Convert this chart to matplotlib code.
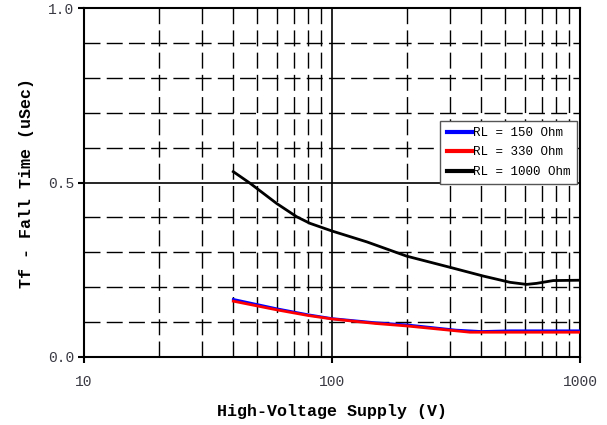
import matplotlib.pyplot as plt
from matplotlib.ticker import FixedLocator, NullFormatter
import numpy as np

# values
v_150 = [40, 60, 80, 100, 150, 200, 316, 400, 520, 700, 1000]
tf_150 = [0.165, 0.138, 0.121, 0.110, 0.098, 0.092, 0.077, 0.073, 0.075, 0.075, 0.075]

v_330 = [40, 60, 80, 100, 150, 200, 316, 360, 500, 700, 1000]
tf_330 = [0.160, 0.135, 0.119, 0.109, 0.096, 0.089, 0.075, 0.071, 0.071, 0.071, 0.071]

v_1000 = [40, 46.7, 59.8, 72, 81.5, 100, 138, 200, 299, 407, 522, 609, 668, 780, 1000]
tf_1000 = [0.531, 0.498, 0.440, 0.402, 0.383, 0.361, 0.330, 0.289, 0.257, 0.232, 0.214, 0.208, 0.211, 0.219, 0.220]

font = 'Liberation Mono'
plt.rcParams['font.family'] = [font, 'DejaVu Sans Mono']

fig = plt.figure(figsize=(6.07, 4.25), dpi=100)
ax = fig.add_axes([84/607, 1-357/425, 496/607, 349/425])

ax.set_xscale('log')
ax.set_xlim(10, 1000)
ax.set_ylim(0, 1.0)

# grid lines
dash = (0, (11.5, 4.5))
for x in list(range(20, 100, 10)) + list(range(200, 1000, 100)):
    ax.axvline(x, color='black', lw=1.0, linestyle=dash, zorder=1)
for y in [0.1, 0.2, 0.3, 0.4, 0.6, 0.7, 0.8, 0.9]:
    ax.axhline(y, color='black', lw=1.0, linestyle=dash, zorder=1)
ax.axvline(100, color='black', lw=1.2, zorder=1)
ax.axhline(0.5, color='black', lw=1.2, zorder=1)

ax.plot(v_150, tf_150, color='blue', lw=2.0, label='RL = 150 Ohm', zorder=3)
ax.plot(v_330, tf_330, color='red', lw=2.0, label='RL = 330 Ohm', zorder=4)
ax.plot(v_1000, tf_1000, color='black', lw=2.0, label='RL = 1000 Ohm', zorder=5)

ax.xaxis.set_major_locator(FixedLocator([10, 100, 1000]))
ax.set_xticklabels(['10', '100', '1000'])
ax.xaxis.set_minor_locator(FixedLocator([]))
ax.xaxis.set_minor_formatter(NullFormatter())
ax.set_yticks([0.0, 0.5, 1.0])
ax.set_yticklabels(['0.0', '0.5', '1.0'])
ax.tick_params(axis='both', which='major', length=4, width=1.5, direction='out',
               labelsize=10.5, labelcolor='#3a3a44', pad=9)
ax.tick_params(axis='y', pad=3)

for s in ax.spines.values():
    s.set_linewidth(1.5)

ax.set_xlabel('High-Voltage Supply (V)', fontsize=12, fontweight='bold', labelpad=11)
ax.set_ylabel('Tf - Fall Time (uSec)', fontsize=12, fontweight='bold', labelpad=10)

leg = ax.legend(loc='upper right', bbox_to_anchor=(0.993, 0.677), fontsize=9,
                handlelength=2.0, handletextpad=0.1, borderpad=0.5,
                labelspacing=0.6, fancybox=False, framealpha=1,
                edgecolor='#555555', borderaxespad=0)
leg.get_frame().set_linewidth(1.0)
for line in leg.get_lines():
    line.set_linewidth(3.0)

fig.savefig('out.png', dpi=100)
